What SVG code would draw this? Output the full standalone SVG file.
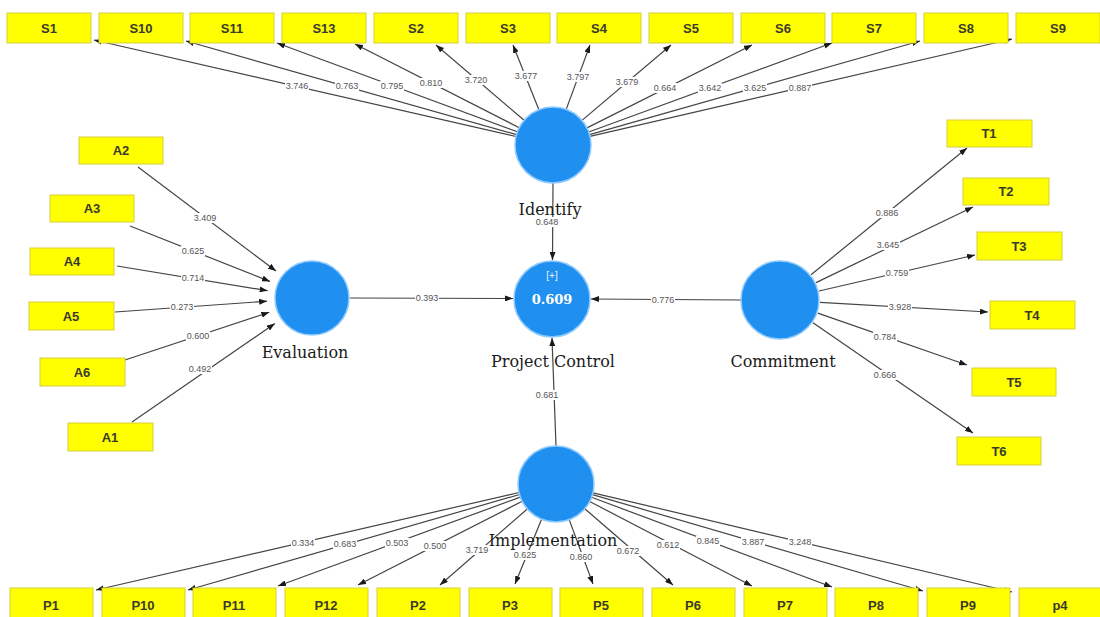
<svg xmlns="http://www.w3.org/2000/svg" width="1100" height="617" viewBox="0 0 1100 617">
  <style>
    .ind rect { fill: #ffff00; stroke: #d6cf3c; stroke-width: 1; }
    .ind text { font-family: "Liberation Sans", Arial, sans-serif; font-weight: bold; font-size: 13px; fill: #3a3a2c; text-anchor: middle; }
    .lv circle { fill: #1f8ff0; stroke: #8fcaff; stroke-width: 1.5; }
    .lvname { font-family: "DejaVu Serif", "Liberation Serif", serif; font-size: 16px; fill: #1a1a1a; text-anchor: middle; }
    .edge { stroke: #444; stroke-width: 1.2; fill: none; marker-end: url(#ah); }
    .lbl rect { fill: #ffffff; }
    .lbl text { font-family: "Liberation Sans", Arial, sans-serif; font-size: 9px; fill: #555; text-anchor: middle; }
  </style>
  <defs>
    <marker id="ah" viewBox="0 0 8 6" refX="8" refY="3" markerWidth="8" markerHeight="6" markerUnits="userSpaceOnUse" orient="auto">
      <path d="M0,0 L8,3 L0,6 z" fill="#1a1a1a"/>
    </marker>
  </defs>
  <rect width="1100" height="617" fill="#ffffff"/>

  <g id="connectors">
    <!-- Identify -> S indicators -->
    <line class="edge" x1="516" y1="136.5" x2="94" y2="40"/>
    <line class="edge" x1="516.4" y1="134.6" x2="186" y2="41"/>
    <line class="edge" x1="517.4" y1="131.8" x2="277" y2="43"/>
    <line class="edge" x1="519.2" y1="127.7" x2="355" y2="44"/>
    <line class="edge" x1="524.1" y1="120.3" x2="436" y2="45"/>
    <line class="edge" x1="538.9" y1="109.7" x2="513" y2="45"/>
    <line class="edge" x1="566.2" y1="109.4" x2="590" y2="45"/>
    <line class="edge" x1="582" y1="120.4" x2="671" y2="45"/>
    <line class="edge" x1="587" y1="127.9" x2="752" y2="45"/>
    <line class="edge" x1="588.7" y1="132" x2="832" y2="43"/>
    <line class="edge" x1="589.6" y1="134.6" x2="920" y2="41"/>
    <line class="edge" x1="590" y1="136.4" x2="1012" y2="39"/>

    <!-- A indicators -> Evaluation -->
    <line class="edge" x1="138" y1="167" x2="276" y2="271"/>
    <line class="edge" x1="130" y1="226" x2="270" y2="281.4"/>
    <line class="edge" x1="117" y1="266" x2="267.6" y2="290.7"/>
    <line class="edge" x1="115" y1="312" x2="267.1" y2="301.2"/>
    <line class="edge" x1="125" y1="360" x2="269.3" y2="312.2"/>
    <line class="edge" x1="132" y1="422" x2="274.9" y2="323.5"/>

    <!-- Commitment -> T indicators -->
    <line class="edge" x1="811" y1="274.8" x2="967" y2="148"/>
    <line class="edge" x1="816" y1="282.6" x2="973" y2="207"/>
    <line class="edge" x1="819" y1="291" x2="975" y2="255"/>
    <line class="edge" x1="819.9" y1="302.3" x2="988" y2="312"/>
    <line class="edge" x1="817.8" y1="313.1" x2="967" y2="365"/>
    <line class="edge" x1="813" y1="322.7" x2="973" y2="433"/>

    <!-- Implementation -> P indicators -->
    <line class="edge" x1="519" y1="492.5" x2="96" y2="590"/>
    <line class="edge" x1="519.5" y1="494.5" x2="188" y2="590"/>
    <line class="edge" x1="520.3" y1="497.1" x2="278" y2="586"/>
    <line class="edge" x1="522.2" y1="501.3" x2="358" y2="585"/>
    <line class="edge" x1="527.3" y1="509" x2="440" y2="585"/>
    <line class="edge" x1="541.6" y1="519.2" x2="515" y2="584"/>
    <line class="edge" x1="569.2" y1="519.6" x2="593" y2="584"/>
    <line class="edge" x1="584.8" y1="508.8" x2="673" y2="585"/>
    <line class="edge" x1="589.7" y1="501.5" x2="752" y2="586"/>
    <line class="edge" x1="591.6" y1="497.3" x2="832" y2="587"/>
    <line class="edge" x1="592.5" y1="494.6" x2="923" y2="591"/>
    <line class="edge" x1="593" y1="492.8" x2="1012" y2="592"/>

    <!-- structural paths into Project Control -->
    <line class="edge" x1="553" y1="183" x2="552.5" y2="260"/>
    <line class="edge" x1="350" y1="298" x2="513" y2="298.5"/>
    <line class="edge" x1="741" y1="300" x2="591" y2="299"/>
    <line class="edge" x1="556" y1="446" x2="552" y2="338"/>

    <!-- outer loadings -->
    <g class="lbl"><rect x="285" y="81" width="24" height="10"/><text x="297" y="89">3.746</text></g>
    <g class="lbl"><rect x="335" y="81" width="24" height="10"/><text x="347" y="89">0.763</text></g>
    <g class="lbl"><rect x="380" y="81" width="24" height="10"/><text x="392" y="89">0.795</text></g>
    <g class="lbl"><rect x="419" y="78" width="24" height="10"/><text x="431" y="86">0.810</text></g>
    <g class="lbl"><rect x="464" y="75" width="24" height="10"/><text x="476" y="83">3.720</text></g>
    <g class="lbl"><rect x="514" y="71" width="24" height="10"/><text x="526" y="79">3.677</text></g>
    <g class="lbl"><rect x="566" y="72" width="24" height="10"/><text x="578" y="80">3.797</text></g>
    <g class="lbl"><rect x="615" y="77" width="24" height="10"/><text x="627" y="85">3.679</text></g>
    <g class="lbl"><rect x="653" y="83" width="24" height="10"/><text x="665" y="91">0.664</text></g>
    <g class="lbl"><rect x="698" y="83" width="24" height="10"/><text x="710" y="91">3.642</text></g>
    <g class="lbl"><rect x="743" y="83" width="24" height="10"/><text x="755" y="91">3.625</text></g>
    <g class="lbl"><rect x="788" y="83" width="24" height="10"/><text x="800" y="91">0.887</text></g>

    <g class="lbl"><rect x="193" y="213" width="24" height="10"/><text x="205" y="221">3.409</text></g>
    <g class="lbl"><rect x="181" y="246" width="24" height="10"/><text x="193" y="254">0.625</text></g>
    <g class="lbl"><rect x="181" y="273" width="24" height="10"/><text x="193" y="281">0.714</text></g>
    <g class="lbl"><rect x="170" y="302" width="24" height="10"/><text x="182" y="310">0.273</text></g>
    <g class="lbl"><rect x="186" y="331" width="24" height="10"/><text x="198" y="339">0.600</text></g>
    <g class="lbl"><rect x="188" y="364" width="24" height="10"/><text x="200" y="372">0.492</text></g>

    <g class="lbl"><rect x="875" y="208" width="24" height="10"/><text x="887" y="216">0.886</text></g>
    <g class="lbl"><rect x="876" y="240" width="24" height="10"/><text x="888" y="248">3.645</text></g>
    <g class="lbl"><rect x="885" y="268" width="24" height="10"/><text x="897" y="276">0.759</text></g>
    <g class="lbl"><rect x="888" y="302" width="24" height="10"/><text x="900" y="310">3.928</text></g>
    <g class="lbl"><rect x="873" y="332" width="24" height="10"/><text x="885" y="340">0.784</text></g>
    <g class="lbl"><rect x="873" y="370" width="24" height="10"/><text x="885" y="378">0.666</text></g>

    <g class="lbl"><rect x="291" y="538" width="24" height="10"/><text x="303" y="546">0.334</text></g>
    <g class="lbl"><rect x="333" y="539" width="24" height="10"/><text x="345" y="547">0.683</text></g>
    <g class="lbl"><rect x="385" y="538" width="24" height="10"/><text x="397" y="546">0.503</text></g>
    <g class="lbl"><rect x="423" y="541" width="24" height="10"/><text x="435" y="549">0.500</text></g>
    <g class="lbl"><rect x="465" y="545" width="24" height="10"/><text x="477" y="553">3.719</text></g>
    <g class="lbl"><rect x="513" y="550" width="24" height="10"/><text x="525" y="558">0.625</text></g>
    <g class="lbl"><rect x="569" y="552" width="24" height="10"/><text x="581" y="560">0.860</text></g>
    <g class="lbl"><rect x="616" y="546" width="24" height="10"/><text x="628" y="554">0.672</text></g>
    <g class="lbl"><rect x="656" y="540" width="24" height="10"/><text x="668" y="548">0.612</text></g>
    <g class="lbl"><rect x="696" y="536" width="24" height="10"/><text x="708" y="544">0.845</text></g>
    <g class="lbl"><rect x="741" y="537" width="24" height="10"/><text x="753" y="545">3.887</text></g>
    <g class="lbl"><rect x="788" y="537" width="24" height="10"/><text x="800" y="545">3.248</text></g>

    <!-- path coefficients -->
    <g class="lbl"><rect x="535" y="217" width="24" height="10"/><text x="547" y="225">0.648</text></g>
    <g class="lbl"><rect x="415" y="293" width="24" height="10"/><text x="427" y="301">0.393</text></g>
    <g class="lbl"><rect x="651" y="295" width="24" height="10"/><text x="663" y="303">0.776</text></g>
    <g class="lbl"><rect x="535" y="390" width="24" height="10"/><text x="547" y="398">0.681</text></g>
  </g>

  <!-- latent variables -->
  <g id="identify" class="lv">
    <circle cx="553" cy="145" r="38"/>
    <text class="lvname" x="550" y="215">Identify</text>
  </g>
  <g id="project-control" class="lv">
    <circle cx="552" cy="299" r="38"/>
    <text x="552" y="279" font-family="Liberation Sans, Arial, sans-serif" font-size="10" fill="#e8f3ff" text-anchor="middle">[+]</text>
    <text x="552" y="304" font-family="DejaVu Serif, Liberation Serif, serif" font-size="13" font-weight="bold" fill="#ffffff" text-anchor="middle">0.609</text>
    <text class="lvname" x="553" y="367">Project Control</text>
  </g>
  <g id="evaluation" class="lv">
    <circle cx="312" cy="298" r="37"/>
    <text class="lvname" x="305" y="358">Evaluation</text>
  </g>
  <g id="commitment" class="lv">
    <circle cx="780" cy="300" r="39"/>
    <text class="lvname" x="783" y="367">Commitment</text>
  </g>
  <g id="implementation" class="lv">
    <circle cx="556" cy="484" r="38"/>
    <text class="lvname" x="553" y="546">Implementation</text>
  </g>

  <!-- Identify indicators -->
  <g id="S1" class="ind"><rect x="7" y="13" width="84" height="30"/><text x="49" y="33">S1</text></g>
  <g id="S10" class="ind"><rect x="99" y="13" width="84" height="30"/><text x="141" y="33">S10</text></g>
  <g id="S11" class="ind"><rect x="190" y="13" width="84" height="30"/><text x="232" y="33">S11</text></g>
  <g id="S13" class="ind"><rect x="282" y="13" width="84" height="30"/><text x="324" y="33">S13</text></g>
  <g id="S2" class="ind"><rect x="374" y="13" width="84" height="30"/><text x="416" y="33">S2</text></g>
  <g id="S3" class="ind"><rect x="466" y="13" width="84" height="30"/><text x="508" y="33">S3</text></g>
  <g id="S4" class="ind"><rect x="557" y="13" width="84" height="30"/><text x="599" y="33">S4</text></g>
  <g id="S5" class="ind"><rect x="649" y="13" width="84" height="30"/><text x="691" y="33">S5</text></g>
  <g id="S6" class="ind"><rect x="741" y="13" width="84" height="30"/><text x="783" y="33">S6</text></g>
  <g id="S7" class="ind"><rect x="832" y="13" width="84" height="30"/><text x="874" y="33">S7</text></g>
  <g id="S8" class="ind"><rect x="924" y="13" width="84" height="30"/><text x="966" y="33">S8</text></g>
  <g id="S9" class="ind"><rect x="1016" y="13" width="84" height="30"/><text x="1058" y="33">S9</text></g>

  <!-- Evaluation indicators -->
  <g id="A2" class="ind"><rect x="79" y="137" width="84" height="27"/><text x="121" y="155">A2</text></g>
  <g id="A3" class="ind"><rect x="50" y="195" width="84" height="27"/><text x="92" y="213">A3</text></g>
  <g id="A4" class="ind"><rect x="30" y="248" width="84" height="27"/><text x="72" y="266">A4</text></g>
  <g id="A5" class="ind"><rect x="29" y="302" width="85" height="28"/><text x="71" y="321">A5</text></g>
  <g id="A6" class="ind"><rect x="40" y="358" width="85" height="28"/><text x="82" y="377">A6</text></g>
  <g id="A1" class="ind"><rect x="68" y="423" width="85" height="28"/><text x="110" y="442">A1</text></g>

  <!-- Commitment indicators -->
  <g id="T1" class="ind"><rect x="947" y="120" width="85" height="27"/><text x="989" y="138">T1</text></g>
  <g id="T2" class="ind"><rect x="963" y="178" width="86" height="27"/><text x="1006" y="196">T2</text></g>
  <g id="T3" class="ind"><rect x="977" y="232" width="85" height="28"/><text x="1019" y="251">T3</text></g>
  <g id="T4" class="ind"><rect x="990" y="301" width="85" height="28"/><text x="1032" y="320">T4</text></g>
  <g id="T5" class="ind"><rect x="972" y="368" width="84" height="28"/><text x="1014" y="387">T5</text></g>
  <g id="T6" class="ind"><rect x="957" y="437" width="84" height="28"/><text x="999" y="456">T6</text></g>

  <!-- Implementation indicators -->
  <g id="P1" class="ind"><rect x="10" y="588" width="83" height="30"/><text x="51" y="610">P1</text></g>
  <g id="P10" class="ind"><rect x="102" y="588" width="83" height="30"/><text x="143" y="610">P10</text></g>
  <g id="P11" class="ind"><rect x="193" y="588" width="83" height="30"/><text x="234" y="610">P11</text></g>
  <g id="P12" class="ind"><rect x="285" y="588" width="83" height="30"/><text x="326" y="610">P12</text></g>
  <g id="P2" class="ind"><rect x="377" y="588" width="83" height="30"/><text x="418" y="610">P2</text></g>
  <g id="P3" class="ind"><rect x="469" y="588" width="83" height="30"/><text x="510" y="610">P3</text></g>
  <g id="P5" class="ind"><rect x="560" y="588" width="83" height="30"/><text x="601" y="610">P5</text></g>
  <g id="P6" class="ind"><rect x="652" y="588" width="83" height="30"/><text x="693" y="610">P6</text></g>
  <g id="P7" class="ind"><rect x="744" y="588" width="83" height="30"/><text x="785" y="610">P7</text></g>
  <g id="P8" class="ind"><rect x="835" y="588" width="83" height="30"/><text x="876" y="610">P8</text></g>
  <g id="P9" class="ind"><rect x="927" y="588" width="83" height="30"/><text x="968" y="610">P9</text></g>
  <g id="p4" class="ind"><rect x="1019" y="588" width="83" height="30"/><text x="1060" y="610">p4</text></g>
</svg>
